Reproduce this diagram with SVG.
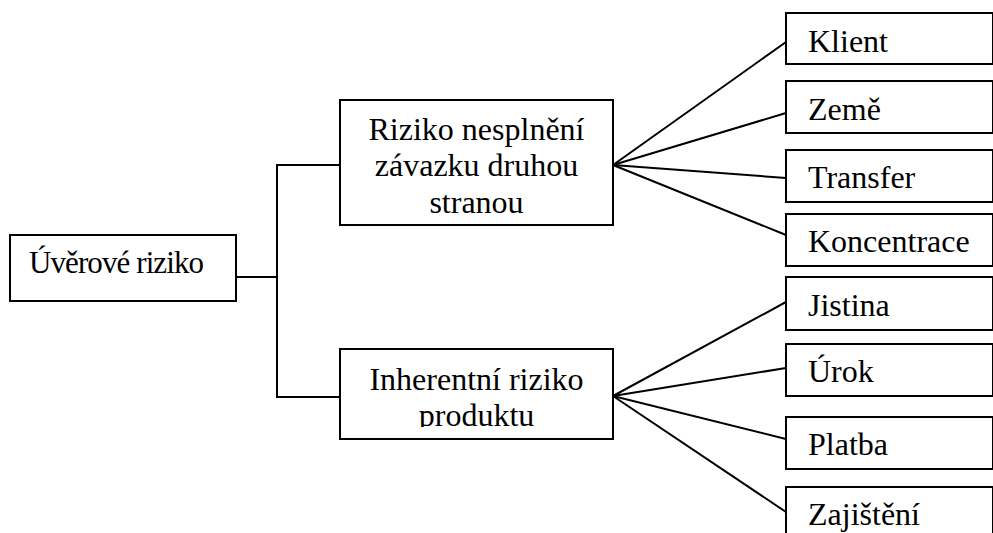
<svg xmlns="http://www.w3.org/2000/svg" width="993" height="533" viewBox="0 0 993 533">
<style>
.box{fill:#fff;stroke:#000;stroke-width:2}
.t{font-family:"Liberation Serif","Times New Roman",serif;font-size:32px;fill:#000}
.c{text-anchor:middle}
.ln{stroke:#000;stroke-width:2;fill:none}
</style>
<defs>
<clipPath id="clip3"><rect x="340" y="349" width="273" height="78"/></clipPath>
</defs>
<rect width="993" height="533" fill="#fff"/>
<g id="connectors">
<polyline class="ln" points="236,277 277,277"/>
<polyline class="ln" points="340,165 277,165 277,397 340,397"/>
<line class="ln" x1="613" y1="165" x2="786" y2="42"/>
<line class="ln" x1="613" y1="165" x2="786" y2="113"/>
<line class="ln" x1="613" y1="165" x2="786" y2="178"/>
<line class="ln" x1="613" y1="165" x2="786" y2="235"/>
<line class="ln" x1="613" y1="396" x2="786" y2="302"/>
<line class="ln" x1="613" y1="396" x2="786" y2="368"/>
<line class="ln" x1="613" y1="396" x2="786" y2="439"/>
<line class="ln" x1="613" y1="396" x2="786" y2="512"/>
</g>
<g id="root">
<rect class="box" x="10" y="235" width="226" height="66"/>
<text class="t" x="29" y="273" style="font-size:31px" textLength="175" lengthAdjust="spacing">Úvěrové riziko</text>
</g>
<g id="counterparty">
<rect class="box" x="340" y="100" width="273" height="125"/>
<text class="t c" x="476.5" y="140">Riziko nesplnění</text>
<text class="t c" x="476.5" y="176">závazku druhou</text>
<text class="t c" x="476.5" y="213">stranou</text>
</g>
<g id="inherent">
<rect class="box" x="340" y="349" width="273" height="90"/>
<g clip-path="url(#clip3)">
<text class="t c" x="476.5" y="390">Inherentní riziko</text>
<text class="t c" x="476.5" y="426">produktu</text>
</g>
</g>
<g id="klient">
<rect class="box" x="786" y="13" width="207" height="51"/>
<text class="t" x="808" y="52">Klient</text>
</g>
<g id="zeme">
<rect class="box" x="786" y="81" width="207" height="52"/>
<text class="t" x="808" y="120">Země</text>
</g>
<g id="transfer">
<rect class="box" x="786" y="150" width="207" height="52"/>
<text class="t" x="808" y="188">Transfer</text>
</g>
<g id="koncentrace">
<rect class="box" x="786" y="214" width="207" height="52"/>
<text class="t" x="808" y="252">Koncentrace</text>
</g>
<g id="jistina">
<rect class="box" x="786" y="277" width="207" height="53"/>
<text class="t" x="808" y="316">Jistina</text>
</g>
<g id="urok">
<rect class="box" x="786" y="344" width="207" height="52"/>
<text class="t" x="808" y="382">Úrok</text>
</g>
<g id="platba">
<rect class="box" x="786" y="417" width="207" height="52"/>
<text class="t" x="808" y="455">Platba</text>
</g>
<g id="zajisteni">
<rect class="box" x="786" y="487" width="207" height="60"/>
<text class="t" x="808" y="525">Zajištění</text>
</g>
</svg>
